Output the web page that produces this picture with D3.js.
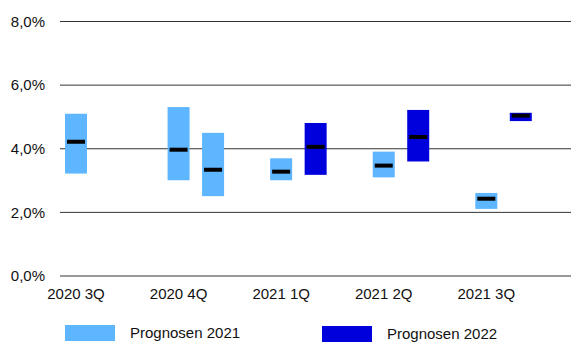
<!DOCTYPE html>
<html>
<head>
<meta charset="utf-8">
<script src="https://cdn.jsdelivr.net/npm/d3@7/dist/d3.min.js"></script>
<style>
  html, body { margin: 0; padding: 0; background: #fff; }
  svg { display: block; font-family: "Liberation Sans", Arial, sans-serif; }
</style>
</head>
<body>
<svg id="chart" width="571" height="344"></svg>
<script>
// Quarters on the x axis
const categories = ["2020 3Q", "2020 4Q", "2021 1Q", "2021 2Q", "2021 3Q"];

// Forecast ranges per quarter: slot 0 = left bar, slot 1 = right bar
// series: which legend entry the bar belongs to
const barCategory = ["2020 3Q", "2020 4Q", "2020 4Q", "2021 1Q", "2021 1Q", "2021 2Q", "2021 2Q", "2021 3Q", "2021 3Q"];
const barSlot     = [0, 0, 1, 0, 1, 0, 1, 0, 1];
const barSeries   = ["Prognosen 2021", "Prognosen 2021", "Prognosen 2021", "Prognosen 2021", "Prognosen 2022",
                     "Prognosen 2021", "Prognosen 2022", "Prognosen 2021", "Prognosen 2022"];
const barLow      = [3.22, 3.01, 2.51, 3.01, 3.18, 3.10, 3.60, 2.11, 4.87];
const barHigh     = [5.10, 5.31, 4.50, 3.70, 4.81, 3.91, 5.22, 2.61, 5.13];
const barMid      = [4.22, 3.97, 3.34, 3.28, 4.06, 3.47, 4.37, 2.43, 5.04];

// Y axis ticks (percent)
const yTicks = [0, 2, 4, 6, 8];

const seriesNames  = ["Prognosen 2021", "Prognosen 2022"];
const seriesColors = ["#5db6ff", "#0000dc"];

const svg = d3.select("#chart");
const color = d3.scaleOrdinal().domain(seriesNames).range(seriesColors);

const y = d3.scaleLinear().domain([0, 8]).range([276, 21.5]);
const x = d3.scalePoint().domain(categories).range([76, 486.3]);
const slot = d3.scaleOrdinal().domain([0, 1]).range([0, 34.5]);
const barW = 22, markW = 18, markH = 4;
const fontSize = 15;

const fmt = v => d3.format(".1f")(v).replace(".", ",") + "%";

// Horizontal gridlines
svg.append("g").selectAll("line").data(yTicks).join("line")
  .attr("x1", 60).attr("x2", 571)
  .attr("y1", d => y(d)).attr("y2", d => y(d))
  .attr("stroke", "#333").attr("stroke-width", 1);

// Y axis labels
svg.append("g").selectAll("text").data(yTicks).join("text")
  .attr("x", 45).attr("y", d => y(d)).attr("dy", "0.35em")
  .attr("text-anchor", "end")
  .attr("font-size", fontSize).attr("fill", "#111")
  .text(fmt);

// X axis labels
svg.append("g").selectAll("text").data(categories).join("text")
  .attr("x", d => x(d)).attr("y", 299)
  .attr("text-anchor", "middle")
  .attr("font-size", fontSize).attr("fill", "#111")
  .text(d => d);

const bars = barCategory.map((c, i) => ({
  c, s: barSlot[i], series: barSeries[i], lo: barLow[i], hi: barHigh[i], mid: barMid[i]
}));
const cx = d => x(d.c) + slot(d.s);

// Range bars
svg.append("g").selectAll("rect").data(bars).join("rect")
  .attr("x", d => cx(d) - barW / 2)
  .attr("width", barW)
  .attr("y", d => y(d.hi))
  .attr("height", d => y(d.lo) - y(d.hi))
  .attr("fill", d => color(d.series));

// Median markers
svg.append("g").selectAll("rect").data(bars).join("rect")
  .attr("x", d => cx(d) - markW / 2)
  .attr("width", markW)
  .attr("y", d => y(d.mid) - markH / 2)
  .attr("height", markH)
  .attr("fill", "#000");

// Legend
const legendX = [65, 322];
const lg = svg.append("g").selectAll("g").data(seriesNames).join("g")
  .attr("transform", (d, i) => `translate(${legendX[i]},${325 + i})`);
lg.append("rect").attr("width", 50).attr("height", 16).attr("fill", d => color(d));
lg.append("text").attr("x", 65).attr("y", 8).attr("dy", "0.35em")
  .attr("font-size", fontSize).attr("fill", "#111").text(d => d);
</script>
</body>
</html>
